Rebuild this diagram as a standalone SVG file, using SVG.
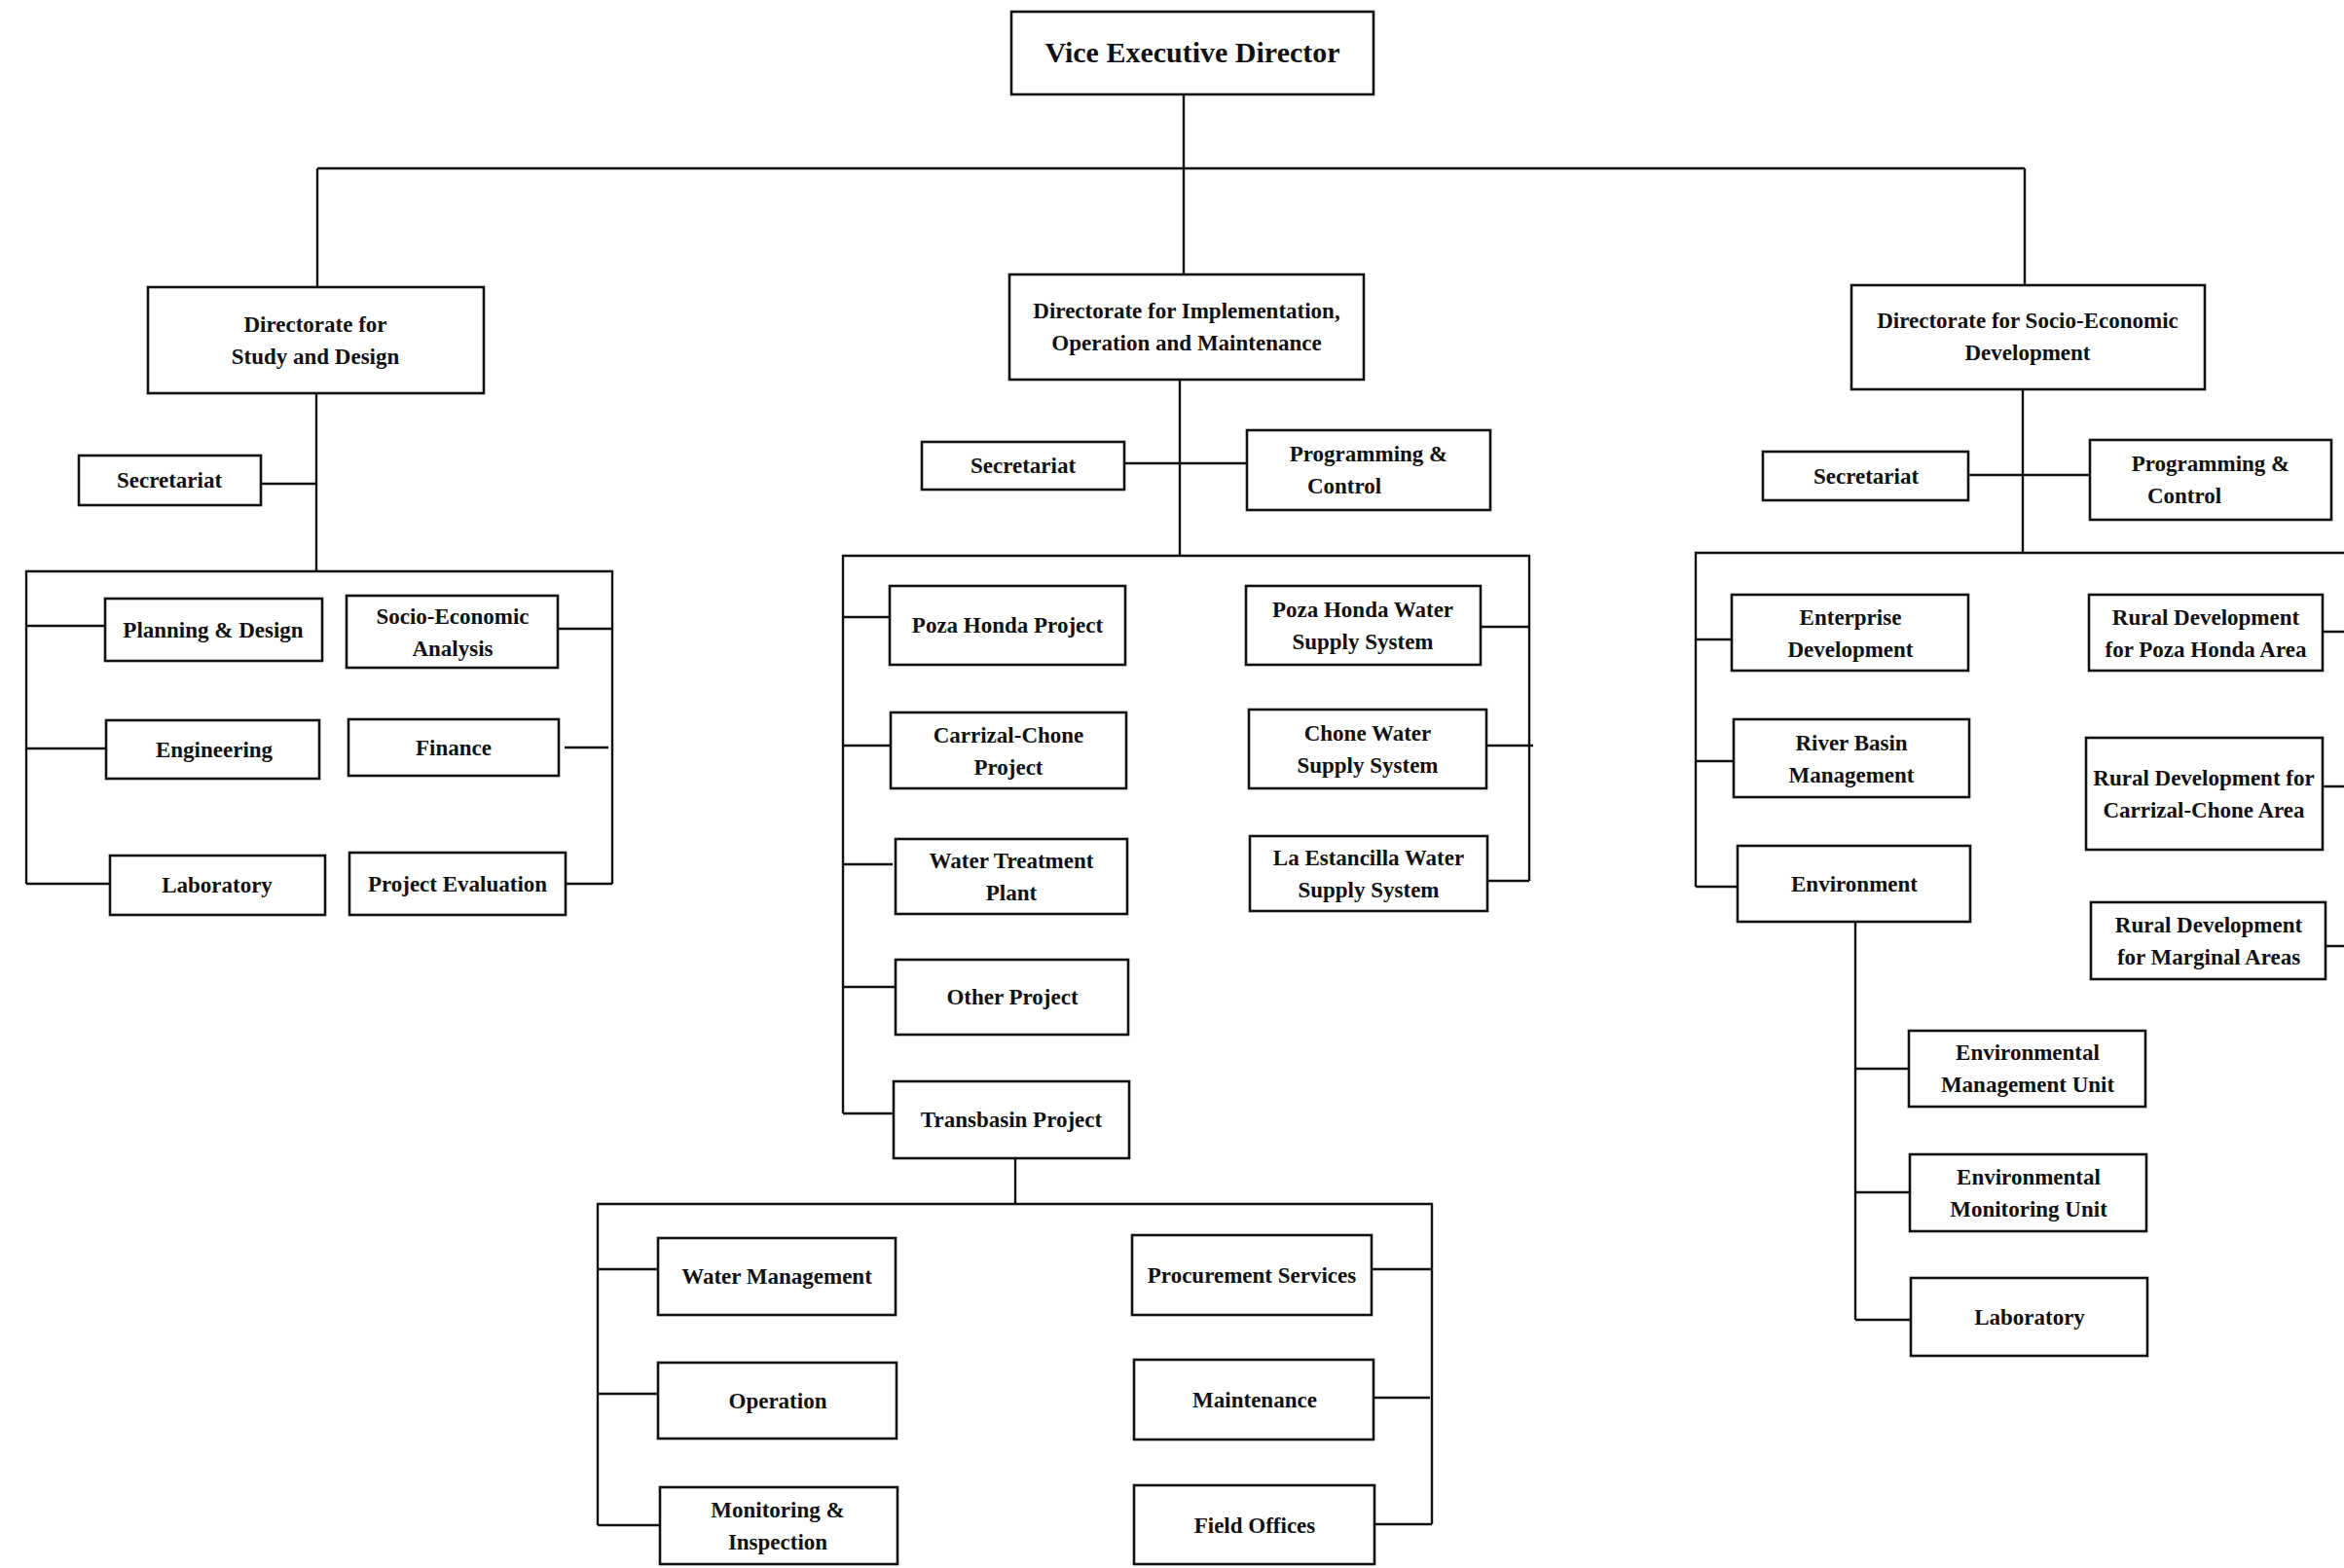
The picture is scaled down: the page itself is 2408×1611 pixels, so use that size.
<svg xmlns="http://www.w3.org/2000/svg" width="2408" height="1611" viewBox="0 0 2408 1611">
<style>
.b{fill:#fff;stroke:#111;stroke-width:2.6}
.t{font-family:"Liberation Serif","Times New Roman",serif;font-size:23px;font-weight:bold;fill:#111;text-anchor:middle}
.big{font-size:30px}
.c{fill:none;stroke:#111;stroke-width:2.4}
</style>
<rect width="2408" height="1611" fill="#fff"/>
<g id="connectors" class="c">
<path d="M1216,97 V282 M326,173 H2080 M326,173 V295 M2080,173 V293"/>
<path d="M325,404 V587 M268,497 H325 M27,908 V587 H629 V908 M27,643 H108 M27,769 H109 M27,908 H113 M573,646 H629 M580,768 H625 M581,908 H629"/>
<path d="M1212,390 V571 M1155,476 H1281 M866,1144 V571 H1571 V905 M866,634 H914 M866,766 H915 M866,888 H917 M866,1014 H920 M866,1144 H918 M1521,644 H1571 M1527,766 H1575 M1528,905 H1571"/>
<path d="M1043,1190 V1237 M614,1567 V1237 H1471 V1566 M614,1304 H676 M614,1432 H676 M614,1567 H677 M1409,1304 H1471 M1411,1436 H1469 M1412,1566 H1471"/>
<path d="M2078,400 V568 M2022,488 H2147 M1742,911 V568 H2408 M1742,657 H1779 M1742,782 H1780 M1742,911 H1785 M2386,649 H2408 M2386,808 H2408 M2389,972 H2408"/>
<path d="M1906,947 V1356 M1906,1098 H1961 M1906,1225 H1962 M1906,1356 H1963"/>
</g>
<g id="ved"><rect class="b" x="1039" y="12" width="372" height="85"/><text class="t big" x="1225" y="64">Vice Executive Director</text></g>
<g id="dir-study"><rect class="b" x="152" y="295" width="345" height="109"/><text class="t" x="324" y="341">Directorate for</text><text class="t" x="324" y="374">Study and Design</text></g>
<g id="dir-impl"><rect class="b" x="1037" y="282" width="364" height="108"/><text class="t" x="1219" y="327">Directorate for Implementation,</text><text class="t" x="1219" y="360">Operation and Maintenance</text></g>
<g id="dir-socio"><rect class="b" x="1902" y="293" width="363" height="107"/><text class="t" x="2083" y="337">Directorate for Socio-Economic</text><text class="t" x="2083" y="370">Development</text></g>

<g id="sd-secretariat"><rect class="b" x="81" y="468" width="187" height="51"/><text class="t" x="174" y="501">Secretariat</text></g>
<g id="sd-planning"><rect class="b" x="108" y="615" width="223" height="64"/><text class="t" x="219" y="655">Planning &amp; Design</text></g>
<g id="sd-socioecon"><rect class="b" x="356" y="612" width="217" height="74"/><text class="t" x="465" y="641">Socio-Economic</text><text class="t" x="465" y="674">Analysis</text></g>
<g id="sd-engineering"><rect class="b" x="109" y="740" width="219" height="60"/><text class="t" x="220" y="778">Engineering</text></g>
<g id="sd-finance"><rect class="b" x="358" y="739" width="216" height="58"/><text class="t" x="466" y="776">Finance</text></g>
<g id="sd-laboratory"><rect class="b" x="113" y="879" width="221" height="61"/><text class="t" x="223" y="917">Laboratory</text></g>
<g id="sd-projeval"><rect class="b" x="359" y="876" width="222" height="64"/><text class="t" x="470" y="916">Project Evaluation</text></g>

<g id="im-secretariat"><rect class="b" x="947" y="454" width="208" height="49"/><text class="t" x="1051" y="486">Secretariat</text></g>
<g id="im-progcontrol"><rect class="b" x="1281" y="442" width="250" height="82"/><text class="t" x="1406" y="474">Programming &amp;</text><text class="t" x="1381" y="507">Control</text></g>
<g id="im-pozahonda"><rect class="b" x="914" y="602" width="242" height="81"/><text class="t" x="1035" y="650">Poza Honda Project</text></g>
<g id="im-carrizal"><rect class="b" x="915" y="732" width="242" height="78"/><text class="t" x="1036" y="763">Carrizal-Chone</text><text class="t" x="1036" y="796">Project</text></g>
<g id="im-watertreat"><rect class="b" x="920" y="862" width="238" height="77"/><text class="t" x="1039" y="892">Water Treatment</text><text class="t" x="1039" y="925">Plant</text></g>
<g id="im-other"><rect class="b" x="920" y="986" width="239" height="77"/><text class="t" x="1040" y="1032">Other Project</text></g>
<g id="im-transbasin"><rect class="b" x="918" y="1111" width="242" height="79"/><text class="t" x="1039" y="1158">Transbasin Project</text></g>
<g id="im-phwater"><rect class="b" x="1280" y="602" width="241" height="81"/><text class="t" x="1400" y="634">Poza Honda Water</text><text class="t" x="1400" y="667">Supply System</text></g>
<g id="im-chone"><rect class="b" x="1283" y="729" width="244" height="81"/><text class="t" x="1405" y="761">Chone Water</text><text class="t" x="1405" y="794">Supply System</text></g>
<g id="im-estancilla"><rect class="b" x="1284" y="859" width="244" height="77"/><text class="t" x="1406" y="889">La Estancilla Water</text><text class="t" x="1406" y="922">Supply System</text></g>

<g id="tb-watermgmt"><rect class="b" x="676" y="1272" width="244" height="79"/><text class="t" x="798" y="1319">Water Management</text></g>
<g id="tb-operation"><rect class="b" x="676" y="1400" width="245" height="78"/><text class="t" x="799" y="1447">Operation</text></g>
<g id="tb-monitoring"><rect class="b" x="678" y="1528" width="244" height="79"/><text class="t" x="799" y="1559">Monitoring &amp;</text><text class="t" x="799" y="1592">Inspection</text></g>
<g id="tb-procurement"><rect class="b" x="1163" y="1269" width="246" height="82"/><text class="t" x="1286" y="1318">Procurement Services</text></g>
<g id="tb-maintenance"><rect class="b" x="1165" y="1397" width="246" height="82"/><text class="t" x="1289" y="1446">Maintenance</text></g>
<g id="tb-fieldoffices"><rect class="b" x="1165" y="1526" width="247" height="81"/><text class="t" x="1289" y="1575">Field Offices</text></g>

<g id="se-secretariat"><rect class="b" x="1811" y="464" width="211" height="50"/><text class="t" x="1917" y="497">Secretariat</text></g>
<g id="se-progcontrol"><rect class="b" x="2147" y="452" width="248" height="82"/><text class="t" x="2271" y="484">Programming &amp;</text><text class="t" x="2244" y="517">Control</text></g>
<g id="se-enterprise"><rect class="b" x="1779" y="611" width="243" height="78"/><text class="t" x="1901" y="642">Enterprise</text><text class="t" x="1901" y="675">Development</text></g>
<g id="se-riverbasin"><rect class="b" x="1781" y="739" width="242" height="80"/><text class="t" x="1902" y="771">River Basin</text><text class="t" x="1902" y="804">Management</text></g>
<g id="se-environment"><rect class="b" x="1785" y="869" width="239" height="78"/><text class="t" x="1905" y="916">Environment</text></g>
<g id="se-rdpoza"><rect class="b" x="2146" y="611" width="240" height="78"/><text class="t" x="2266" y="642">Rural Development</text><text class="t" x="2266" y="675">for Poza Honda Area</text></g>
<g id="se-rdcarrizal"><rect class="b" x="2143" y="758" width="243" height="115"/><text class="t" x="2264" y="807">Rural Development for</text><text class="t" x="2264" y="840">Carrizal-Chone Area</text></g>
<g id="se-rdmarginal"><rect class="b" x="2148" y="927" width="241" height="79"/><text class="t" x="2269" y="958">Rural Development</text><text class="t" x="2269" y="991">for Marginal Areas</text></g>
<g id="se-envmgmt"><rect class="b" x="1961" y="1059" width="243" height="78"/><text class="t" x="2083" y="1089">Environmental</text><text class="t" x="2083" y="1122">Management Unit</text></g>
<g id="se-envmon"><rect class="b" x="1962" y="1186" width="243" height="79"/><text class="t" x="2084" y="1217">Environmental</text><text class="t" x="2084" y="1250">Monitoring Unit</text></g>
<g id="se-laboratory"><rect class="b" x="1963" y="1313" width="243" height="80"/><text class="t" x="2085" y="1361">Laboratory</text></g>
</svg>
